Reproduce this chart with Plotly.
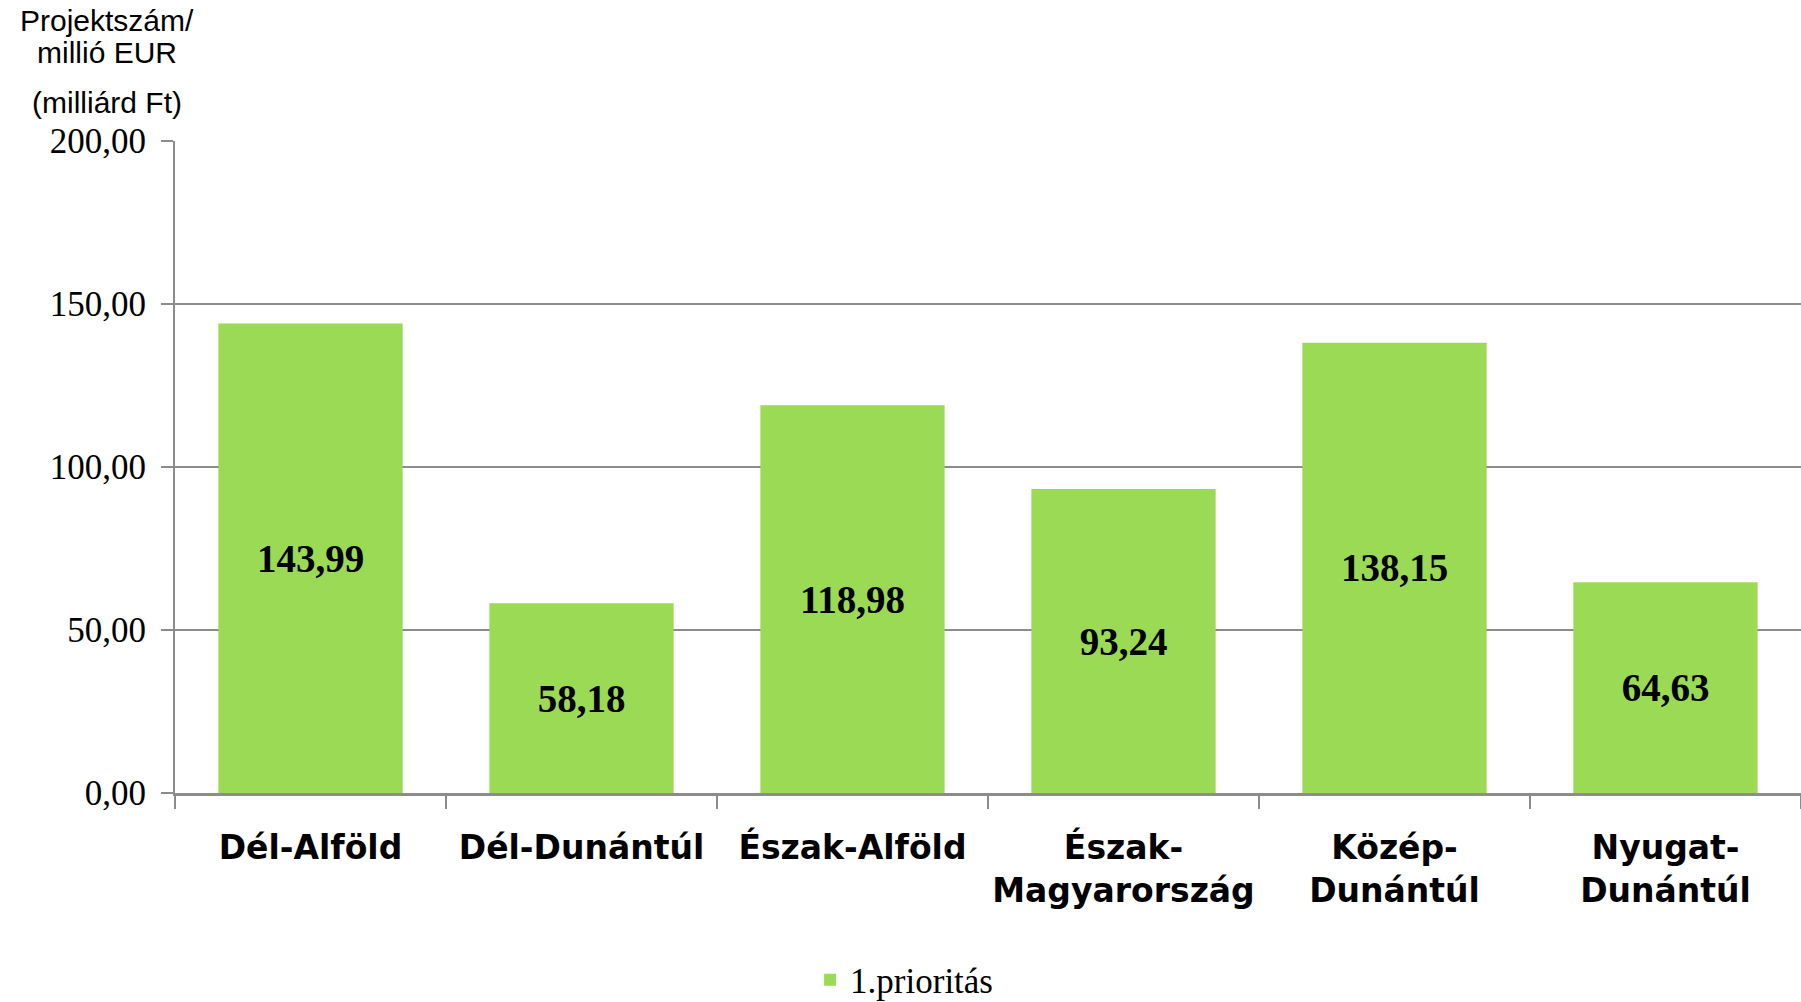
import plotly.graph_objects as go

regions = ["Dél-Alföld", "Dél-Dunántúl", "Észak-Alföld", "Észak-<br>Magyarország", "Közép-<br>Dunántúl", "Nyugat-<br>Dunántúl"]
values = [143.99, 58.18, 118.98, 93.24, 138.15, 64.63]
series_name = "1.prioritás"
y_ticks = [0, 50, 100, 150, 200]

GREEN = "#9BDA55"
GRID = "#8C8C8C"

W, H = 1801, 1002
L, T, B = 175, 141, 209
PH = H - T - B  # plot height
PW = W - L

fig = go.Figure()
fig.add_trace(go.Bar(
    x=regions, y=values, name=series_name,
    marker=dict(color=GREEN, line=dict(width=0)),
    width=0.68,
    texttemplate="%{y:.2f}",
    textposition="inside", insidetextanchor="middle",
    textangle=0,
    textfont=dict(family="Liberation Serif", size=39, color="black", weight="bold"),
    showlegend=True,
))

fig.update_layout(
    width=W, height=H,
    paper_bgcolor="white", plot_bgcolor="white",
    separators=", ",
    margin=dict(l=L, r=0, t=T, b=B, autoexpand=False),
    bargap=0.32,
    showlegend=True,
    legend=dict(orientation="h", xref="container", yref="container",
                x=0.502, xanchor="center", y=(H - 980) / H, yanchor="middle",
                font=dict(family="Liberation Serif", size=35, color="black"),
                bgcolor="rgba(0,0,0,0)"),
    uniformtext=dict(mode=False),
)
fig.update_xaxes(
    type="category", showline=True, linecolor=GRID, linewidth=3,
    ticks="outside", tickson="boundaries", ticklen=13, tickwidth=2, tickcolor=GRID,
    showgrid=False, tickangle=0, automargin=False, ticklabelstandoff=23,
    tickfont=dict(family="DejaVu Sans", size=33, color="black", weight="bold"),
)
fig.update_yaxes(
    range=[0, 200], tickvals=y_ticks, tickformat=".2f",
    showline=True, linecolor=GRID, linewidth=2,
    ticks="outside", ticklen=12, tickwidth=2, tickcolor=GRID,
    showgrid=True, gridcolor=GRID, gridwidth=2,
    zeroline=False, automargin=False, ticklabelstandoff=8,
    tickfont=dict(family="Liberation Serif", size=35, color="black"),
)

title_font = dict(family="Liberation Sans", size=30, color="black")
tx = (107 - 175) / PW
fig.add_annotation(text="Projektszám/", xref="paper", yref="paper", x=tx, y=(793 - 21) / PH,
                   xanchor="center", yanchor="middle", showarrow=False, font=title_font)
fig.add_annotation(text="millió EUR", xref="paper", yref="paper", x=tx, y=(793 - 52) / PH,
                   xanchor="center", yanchor="middle", showarrow=False, font=title_font)
fig.add_annotation(text="(milliárd Ft)", xref="paper", yref="paper", x=tx, y=(793 - 102) / PH,
                   xanchor="center", yanchor="middle", showarrow=False, font=title_font)

fig.write_html("out.html", config={"displayModeBar": False},
               post_script="document.body.style.margin='0';")
